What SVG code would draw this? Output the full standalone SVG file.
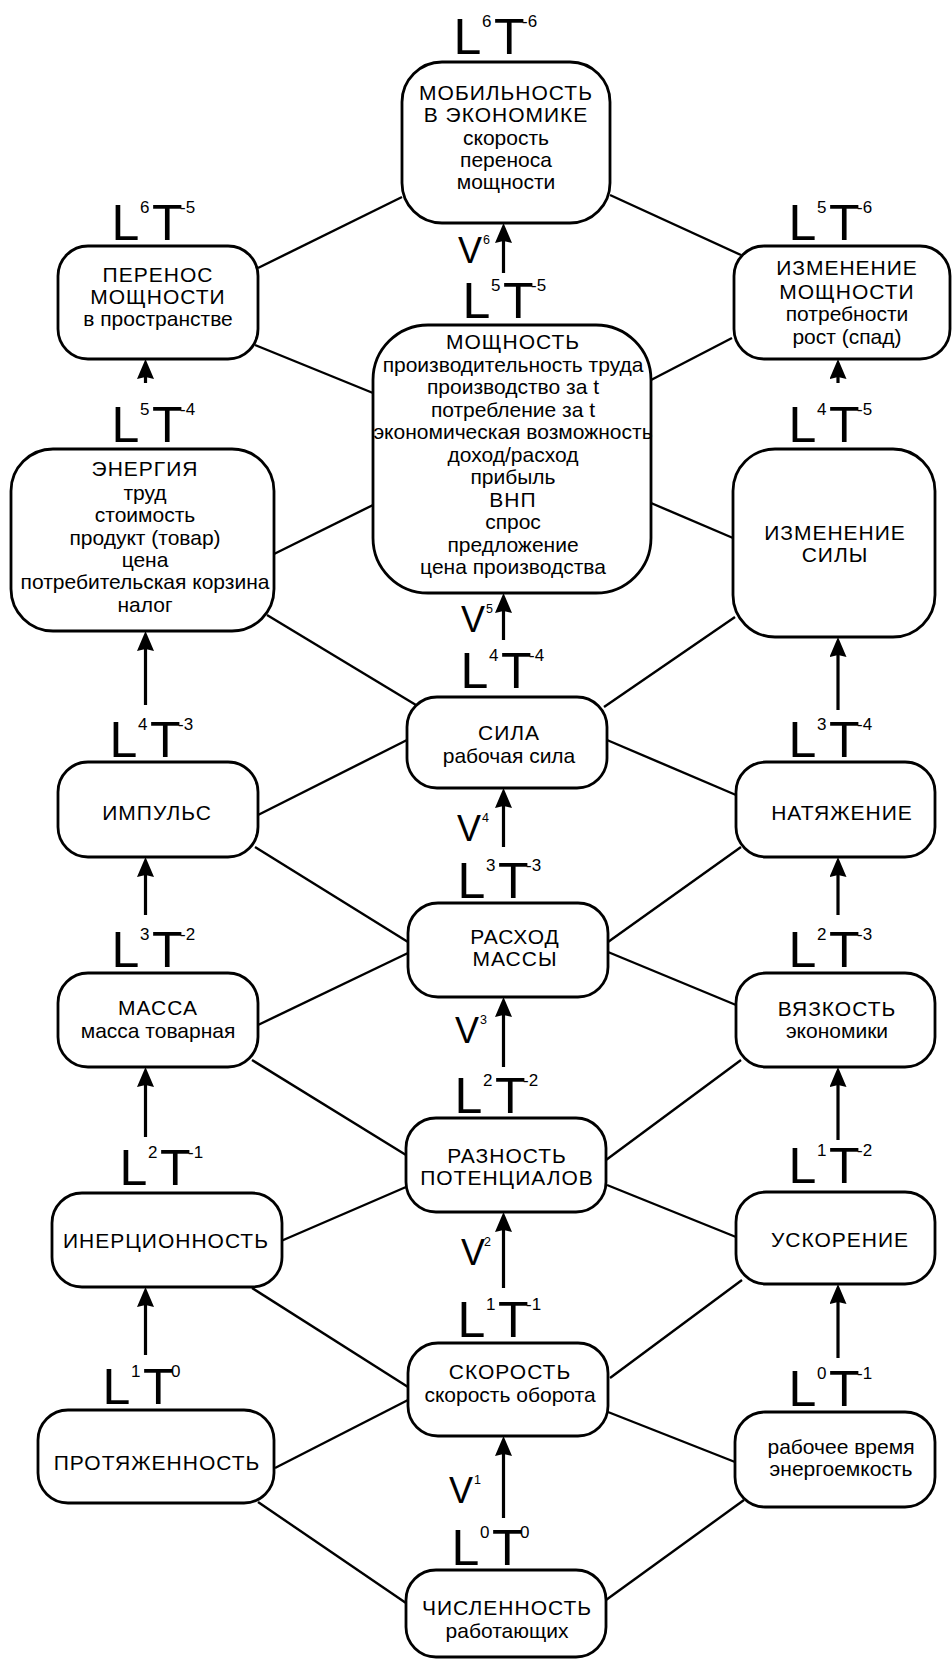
<svg xmlns="http://www.w3.org/2000/svg" width="952" height="1661" viewBox="0 0 952 1661">
<style>
text{font-family:"Liberation Sans",Arial,sans-serif;fill:#000}
.n rect{fill:#fff;stroke:#000;stroke-width:2.8}
.n text{font-size:21px;text-anchor:middle}
.n text.c{letter-spacing:1px}
.big{font-size:50px}
.sup{font-size:17px}
.v{font-size:36px}
.vs{font-size:12.5px}
#connectors line{stroke:#000;stroke-width:2.4}
#connectors .arr{stroke-width:3.2}
</style>
<defs>
<marker id="ah" markerUnits="userSpaceOnUse" markerWidth="20" markerHeight="17" viewBox="0 0 20 17" refX="8" refY="8.5" orient="auto"><path d="M0,0 L20,8.5 L0,17 L2,8.5 z" fill="#000"/></marker>
</defs>
<rect width="952" height="1661" fill="#fff"/>
<g id="connectors">
<line x1="402" y1="197" x2="258" y2="268"/>
<line x1="610" y1="195" x2="741" y2="255"/>
<line x1="255" y1="345" x2="373" y2="393"/>
<line x1="732" y1="338" x2="651" y2="380"/>
<line x1="274" y1="554" x2="373" y2="505"/>
<line x1="651" y1="503" x2="733" y2="538"/>
<line x1="267" y1="615" x2="416" y2="705"/>
<line x1="735" y1="617" x2="604" y2="707"/>
<line x1="407" y1="740" x2="258" y2="815"/>
<line x1="607" y1="740" x2="736" y2="795"/>
<line x1="255" y1="847" x2="408" y2="942"/>
<line x1="741" y1="847" x2="608" y2="942"/>
<line x1="258" y1="1025" x2="408" y2="953"/>
<line x1="736" y1="1005" x2="608" y2="952"/>
<line x1="252" y1="1060" x2="406" y2="1155"/>
<line x1="741" y1="1060" x2="606" y2="1160"/>
<line x1="406" y1="1187" x2="281" y2="1241"/>
<line x1="607" y1="1185" x2="736" y2="1237"/>
<line x1="252" y1="1288" x2="408" y2="1387"/>
<line x1="742" y1="1280" x2="610" y2="1378"/>
<line x1="275" y1="1468" x2="408" y2="1400"/>
<line x1="735" y1="1462" x2="608" y2="1412"/>
<line x1="258" y1="1502" x2="406" y2="1603"/>
<line x1="744" y1="1500" x2="606" y2="1600"/>
<line class="arr" x1="503.5" y1="273" x2="503.5" y2="235" marker-end="url(#ah)"/>
<line class="arr" x1="503.5" y1="640" x2="503.5" y2="605" marker-end="url(#ah)"/>
<line class="arr" x1="503.5" y1="847" x2="503.5" y2="800" marker-end="url(#ah)"/>
<line class="arr" x1="503.5" y1="1067" x2="503.5" y2="1009" marker-end="url(#ah)"/>
<line class="arr" x1="503.5" y1="1288" x2="503.5" y2="1224" marker-end="url(#ah)"/>
<line class="arr" x1="503.5" y1="1518" x2="503.5" y2="1448" marker-end="url(#ah)"/>
<line class="arr" x1="145.5" y1="383" x2="145.5" y2="371" marker-end="url(#ah)"/>
<line class="arr" x1="145.5" y1="705" x2="145.5" y2="643" marker-end="url(#ah)"/>
<line class="arr" x1="145.5" y1="915" x2="145.5" y2="869" marker-end="url(#ah)"/>
<line class="arr" x1="145.5" y1="1137" x2="145.5" y2="1079" marker-end="url(#ah)"/>
<line class="arr" x1="145.5" y1="1355" x2="145.5" y2="1299" marker-end="url(#ah)"/>
<line class="arr" x1="838" y1="383" x2="838" y2="371" marker-end="url(#ah)"/>
<line class="arr" x1="838" y1="710" x2="838" y2="649" marker-end="url(#ah)"/>
<line class="arr" x1="838" y1="915" x2="838" y2="869" marker-end="url(#ah)"/>
<line class="arr" x1="838" y1="1140" x2="838" y2="1079" marker-end="url(#ah)"/>
<line class="arr" x1="838" y1="1358" x2="838" y2="1296" marker-end="url(#ah)"/>
</g>
<g id="nodes">
<g id="mob" class="n"><rect x="402" y="62" width="208" height="161" rx="40"/>
<text class="c" x="506" y="100">МОБИЛЬНОСТЬ</text><text class="c" x="506" y="122">В ЭКОНОМИКЕ</text><text x="506" y="145">скорость</text><text x="506" y="167">переноса</text><text x="506" y="189">мощности</text></g>
<g id="perenos" class="n"><rect x="58" y="246" width="200" height="113" rx="30"/>
<text class="c" x="158" y="282">ПЕРЕНОС</text><text class="c" x="158" y="304">МОЩНОСТИ</text><text x="158" y="326">в пространстве</text></g>
<g id="izm_mosh" class="n"><rect x="734" y="246" width="216" height="113" rx="30"/>
<text class="c" x="847" y="275">ИЗМЕНЕНИЕ</text><text class="c" x="847" y="299">МОЩНОСТИ</text><text x="847" y="321">потребности</text><text x="847" y="344">рост (спад)</text></g>
<g id="moshch" class="n"><rect x="373" y="325" width="278" height="268" rx="55"/>
<text class="c" x="513" y="349">МОЩНОСТЬ</text><text x="513" y="371.5">производительность труда</text><text x="513" y="394">производство за t</text><text x="513" y="416.5">потребление за t</text><text x="513" y="439">экономическая возможность</text><text x="513" y="461.5">доход/расход</text><text x="513" y="484">прибыль</text><text class="c" x="513" y="506.5">ВНП</text><text x="513" y="529">спрос</text><text x="513" y="551.5">предложение</text><text x="513" y="574">цена производства</text></g>
<g id="energia" class="n"><rect x="11" y="449" width="263" height="182" rx="42"/>
<text class="c" x="145" y="476">ЭНЕРГИЯ</text><text x="145" y="500">труд</text><text x="145" y="522">стоимость</text><text x="145" y="545">продукт (товар)</text><text x="145" y="567">цена</text><text x="145" y="589">потребительская корзина</text><text x="145" y="612">налог</text></g>
<g id="izm_sily" class="n"><rect x="733" y="449" width="202" height="188" rx="42"/>
<text class="c" x="835" y="540">ИЗМЕНЕНИЕ</text><text class="c" x="835" y="562">СИЛЫ</text></g>
<g id="sila" class="n"><rect x="407" y="697" width="200" height="91" rx="30"/>
<text class="c" x="509" y="740">СИЛА</text><text x="509" y="763">рабочая сила</text></g>
<g id="impuls" class="n"><rect x="58" y="762" width="200" height="95" rx="30"/>
<text class="c" x="157" y="820">ИМПУЛЬС</text></g>
<g id="natyazh" class="n"><rect x="736" y="762" width="199" height="95" rx="30"/>
<text class="c" x="842" y="820">НАТЯЖЕНИЕ</text></g>
<g id="rashod" class="n"><rect x="408" y="903" width="200" height="94" rx="30"/>
<text class="c" x="515" y="944">РАСХОД</text><text class="c" x="515" y="966">МАССЫ</text></g>
<g id="massa" class="n"><rect x="58" y="973" width="200" height="94" rx="30"/>
<text class="c" x="158" y="1015">МАССА</text><text x="158" y="1038">масса товарная</text></g>
<g id="vyazk" class="n"><rect x="736" y="973" width="199" height="94" rx="30"/>
<text class="c" x="837" y="1016">ВЯЗКОСТЬ</text><text x="837" y="1038">экономики</text></g>
<g id="razn" class="n"><rect x="406" y="1118" width="200" height="94" rx="30"/>
<text class="c" x="507" y="1163">РАЗНОСТЬ</text><text class="c" x="507" y="1185">ПОТЕНЦИАЛОВ</text></g>
<g id="inerc" class="n"><rect x="52" y="1193" width="230" height="94" rx="30"/>
<text class="c" x="166" y="1248">ИНЕРЦИОННОСТЬ</text></g>
<g id="uskor" class="n"><rect x="736" y="1192" width="199" height="92" rx="30"/>
<text class="c" x="840" y="1247">УСКОРЕНИЕ</text></g>
<g id="skorost" class="n"><rect x="408" y="1343" width="200" height="93" rx="30"/>
<text class="c" x="510" y="1379">СКОРОСТЬ</text><text x="510" y="1402">скорость оборота</text></g>
<g id="protyazh" class="n"><rect x="38" y="1410" width="236" height="93" rx="30"/>
<text class="c" x="157" y="1470">ПРОТЯЖЕННОСТЬ</text></g>
<g id="rab_vremya" class="n"><rect x="735" y="1412" width="200" height="95" rx="30"/>
<text x="841" y="1454">рабочее время</text><text x="841" y="1476">энергоемкость</text></g>
<g id="chisl" class="n"><rect x="406" y="1570" width="200" height="87" rx="30"/>
<text class="c" x="507" y="1615">ЧИСЛЕННОСТЬ</text><text x="507" y="1638">работающих</text></g>
</g>
<g id="labels">
<g transform="translate(457,54)"><text class="big" x="-3.6">L</text><text class="sup" x="25" y="-27">6</text><text class="big" x="37">T</text><text class="sup" x="65" y="-27">-6</text></g>
<g transform="translate(466,318)"><text class="big" x="-3.6">L</text><text class="sup" x="25" y="-27">5</text><text class="big" x="37">T</text><text class="sup" x="65" y="-27">-5</text></g>
<g transform="translate(464,688)"><text class="big" x="-3.6">L</text><text class="sup" x="25" y="-27">4</text><text class="big" x="37">T</text><text class="sup" x="65" y="-27">-4</text></g>
<g transform="translate(461,898)"><text class="big" x="-3.6">L</text><text class="sup" x="25" y="-27">3</text><text class="big" x="37">T</text><text class="sup" x="65" y="-27">-3</text></g>
<g transform="translate(458,1113)"><text class="big" x="-3.6">L</text><text class="sup" x="25" y="-27">2</text><text class="big" x="37">T</text><text class="sup" x="65" y="-27">-2</text></g>
<g transform="translate(461,1337)"><text class="big" x="-3.6">L</text><text class="sup" x="25" y="-27">1</text><text class="big" x="37">T</text><text class="sup" x="65" y="-27">-1</text></g>
<g transform="translate(455,1565)"><text class="big" x="-3.6">L</text><text class="sup" x="25" y="-27">0</text><text class="big" x="37">T</text><text class="sup" x="65" y="-27">0</text></g>
<g transform="translate(115,240)"><text class="big" x="-3.6">L</text><text class="sup" x="25" y="-27">6</text><text class="big" x="37">T</text><text class="sup" x="65" y="-27">-5</text></g>
<g transform="translate(115,442)"><text class="big" x="-3.6">L</text><text class="sup" x="25" y="-27">5</text><text class="big" x="37">T</text><text class="sup" x="65" y="-27">-4</text></g>
<g transform="translate(113,757)"><text class="big" x="-3.6">L</text><text class="sup" x="25" y="-27">4</text><text class="big" x="37">T</text><text class="sup" x="65" y="-27">-3</text></g>
<g transform="translate(115,967)"><text class="big" x="-3.6">L</text><text class="sup" x="25" y="-27">3</text><text class="big" x="37">T</text><text class="sup" x="65" y="-27">-2</text></g>
<g transform="translate(123,1185)"><text class="big" x="-3.6">L</text><text class="sup" x="25" y="-27">2</text><text class="big" x="37">T</text><text class="sup" x="65" y="-27">-1</text></g>
<g transform="translate(106,1404)"><text class="big" x="-3.6">L</text><text class="sup" x="25" y="-27">1</text><text class="big" x="37">T</text><text class="sup" x="65" y="-27">0</text></g>
<g transform="translate(792,240)"><text class="big" x="-3.6">L</text><text class="sup" x="25" y="-27">5</text><text class="big" x="37">T</text><text class="sup" x="65" y="-27">-6</text></g>
<g transform="translate(792,442)"><text class="big" x="-3.6">L</text><text class="sup" x="25" y="-27">4</text><text class="big" x="37">T</text><text class="sup" x="65" y="-27">-5</text></g>
<g transform="translate(792,757)"><text class="big" x="-3.6">L</text><text class="sup" x="25" y="-27">3</text><text class="big" x="37">T</text><text class="sup" x="65" y="-27">-4</text></g>
<g transform="translate(792,967)"><text class="big" x="-3.6">L</text><text class="sup" x="25" y="-27">2</text><text class="big" x="37">T</text><text class="sup" x="65" y="-27">-3</text></g>
<g transform="translate(792,1183)"><text class="big" x="-3.6">L</text><text class="sup" x="25" y="-27">1</text><text class="big" x="37">T</text><text class="sup" x="65" y="-27">-2</text></g>
<g transform="translate(792,1406)"><text class="big" x="-3.6">L</text><text class="sup" x="25" y="-27">0</text><text class="big" x="37">T</text><text class="sup" x="65" y="-27">-1</text></g>
<g transform="translate(458,263)"><text class="v">V</text><text class="vs" x="25" y="-19">6</text></g>
<g transform="translate(461,632)"><text class="v">V</text><text class="vs" x="25" y="-19">5</text></g>
<g transform="translate(457,841)"><text class="v">V</text><text class="vs" x="25" y="-19">4</text></g>
<g transform="translate(455,1043)"><text class="v">V</text><text class="vs" x="25" y="-19">3</text></g>
<g transform="translate(461,1265)"><text class="v">V</text><text class="vs" x="23" y="-19">2</text></g>
<g transform="translate(449,1503)"><text class="v">V</text><text class="vs" x="25" y="-19">1</text></g>
</g>
</svg>
